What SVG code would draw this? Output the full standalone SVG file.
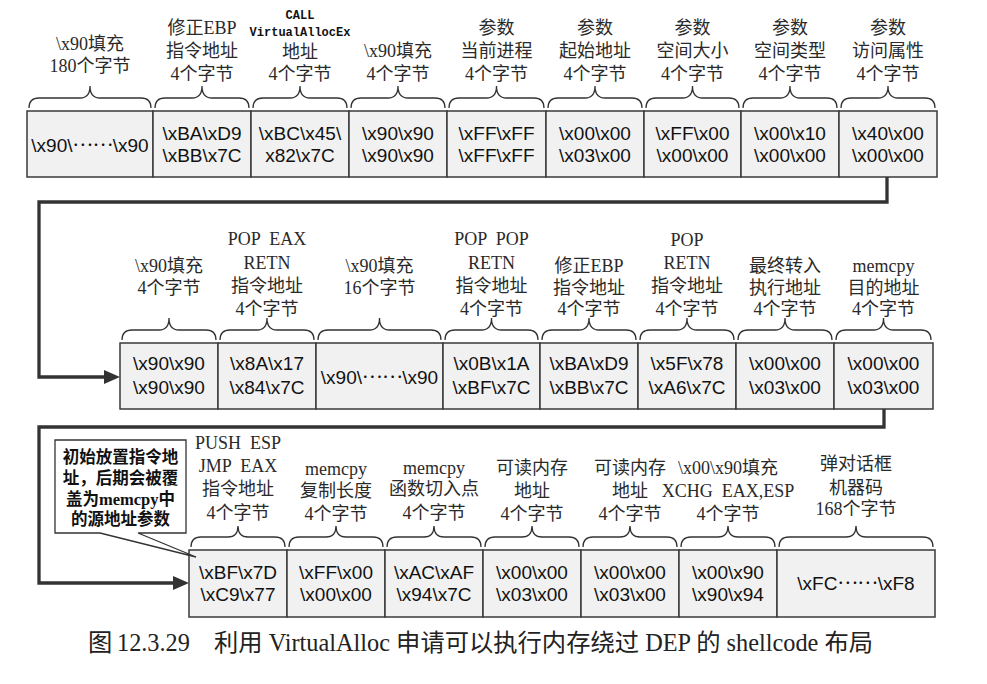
<svg xmlns="http://www.w3.org/2000/svg" width="987" height="684" viewBox="0 0 987 684">
<style>
.box{fill:#f1f1f1;stroke:#3a3a3a;stroke-width:1.5}
.brace{fill:none;stroke:#333;stroke-width:1.3}
.lbl{font-family:"Liberation Serif","Noto Sans CJK SC",serif;font-size:18px;fill:#2a2a2a;text-anchor:middle}
.val{font-family:"Liberation Sans","Noto Sans CJK SC",sans-serif;font-size:19px;fill:#111;text-anchor:middle}
.dots{font-family:"Noto Sans CJK SC",sans-serif}
.mono{font-family:"Liberation Mono",monospace;font-weight:bold;font-size:12px;fill:#111;text-anchor:middle}
.conn{fill:none;stroke:#333;stroke-width:3.3}
.note{font-family:"Liberation Serif","Noto Sans CJK SC",sans-serif;font-weight:bold;font-size:16.5px;fill:#111;text-anchor:middle}
.cap{font-family:"Liberation Serif","Noto Sans CJK SC",serif;font-size:24.3px;fill:#222}
</style>
<defs>
<marker id="arr" markerUnits="userSpaceOnUse" markerWidth="16" markerHeight="14" viewBox="0 0 16 14" refX="2" refY="7" orient="auto">
<path d="M0,0 L16,7 L0,14 Z" fill="#333"/>
</marker>
</defs>
<rect width="987" height="684" fill="#fff"/>

<g id="connectors">
<path class="conn" d="M887,177 V202 H39 V377 H106" marker-end="url(#arr)"/>
<path class="conn" d="M884,409 V427 H39 V583 H175" marker-end="url(#arr)"/>
</g>

<!-- Row 1 -->
<g id="r1n1">
<path class="brace" d="M29,108 Q29,98 39,98 H80 Q90,98 90,86 Q90,98 100,98 H141 Q151,98 151,108"/>
<text class="lbl" x="90" y="50">\x90填充</text>
<text class="lbl" x="90" y="72">180个字节</text>
<rect class="box" x="27" y="111" width="126" height="66"/>
<text class="val" x="90" y="152">\x90\<tspan class="dots" dy="-6">……</tspan><tspan dy="6">\x90</tspan></text>
</g>
<g id="r1n2">
<path class="brace" d="M155,108 Q155,98 165,98 H192 Q202,98 202,86 Q202,98 212,98 H239 Q249,98 249,108"/>
<text class="lbl" x="202" y="34">修正EBP</text>
<text class="lbl" x="202" y="57">指令地址</text>
<text class="lbl" x="202" y="80">4个字节</text>
<rect class="box" x="153" y="111" width="98" height="66"/>
<text class="val" x="202" y="140">\xBA\xD9</text>
<text class="val" x="202" y="162">\xBB\x7C</text>
</g>
<g id="r1n3">
<path class="brace" d="M253,108 Q253,98 263,98 H290 Q300,98 300,86 Q300,98 310,98 H337 Q347,98 347,108"/>
<text class="mono" x="300" y="19">CALL</text>
<text class="mono" x="300" y="36">VirtualAllocEx</text>
<text class="lbl" x="300" y="58">地址</text>
<text class="lbl" x="300" y="80">4个字节</text>
<rect class="box" x="251" y="111" width="98" height="66"/>
<text class="val" x="300" y="140">\xBC\x45\</text>
<text class="val" x="300" y="162">x82\x7C</text>
</g>
<g id="r1n4">
<path class="brace" d="M351,108 Q351,98 361,98 H388 Q398,98 398,86 Q398,98 408,98 H435 Q445,98 445,108"/>
<text class="lbl" x="398" y="57">\x90填充</text>
<text class="lbl" x="398" y="80">4个字节</text>
<rect class="box" x="349" y="111" width="98" height="66"/>
<text class="val" x="398" y="140">\x90\x90</text>
<text class="val" x="398" y="162">\x90\x90</text>
</g>
<g id="r1n5">
<path class="brace" d="M449,108 Q449,98 459,98 H486.5 Q496.5,98 496.5,86 Q496.5,98 506.5,98 H534 Q544,98 544,108"/>
<text class="lbl" x="496.5" y="34">参数</text>
<text class="lbl" x="496.5" y="57">当前进程</text>
<text class="lbl" x="496.5" y="80">4个字节</text>
<rect class="box" x="447" y="111" width="99" height="66"/>
<text class="val" x="496.5" y="140">\xFF\xFF</text>
<text class="val" x="496.5" y="162">\xFF\xFF</text>
</g>
<g id="r1n6">
<path class="brace" d="M548,108 Q548,98 558,98 H585 Q595,98 595,86 Q595,98 605,98 H632 Q642,98 642,108"/>
<text class="lbl" x="595" y="34">参数</text>
<text class="lbl" x="595" y="57">起始地址</text>
<text class="lbl" x="595" y="80">4个字节</text>
<rect class="box" x="546" y="111" width="98" height="66"/>
<text class="val" x="595" y="140">\x00\x00</text>
<text class="val" x="595" y="162">\x03\x00</text>
</g>
<g id="r1n7">
<path class="brace" d="M646,108 Q646,98 656,98 H682.5 Q692.5,98 692.5,86 Q692.5,98 702.5,98 H729 Q739,98 739,108"/>
<text class="lbl" x="692.5" y="34">参数</text>
<text class="lbl" x="692.5" y="57">空间大小</text>
<text class="lbl" x="692.5" y="80">4个字节</text>
<rect class="box" x="644" y="111" width="97" height="66"/>
<text class="val" x="692.5" y="140">\xFF\x00</text>
<text class="val" x="692.5" y="162">\x00\x00</text>
</g>
<g id="r1n8">
<path class="brace" d="M743,108 Q743,98 753,98 H780 Q790,98 790,86 Q790,98 800,98 H827 Q837,98 837,108"/>
<text class="lbl" x="790" y="34">参数</text>
<text class="lbl" x="790" y="57">空间类型</text>
<text class="lbl" x="790" y="80">4个字节</text>
<rect class="box" x="741" y="111" width="98" height="66"/>
<text class="val" x="790" y="140">\x00\x10</text>
<text class="val" x="790" y="162">\x00\x00</text>
</g>
<g id="r1n9">
<path class="brace" d="M841,108 Q841,98 851,98 H878 Q888,98 888,86 Q888,98 898,98 H925 Q935,98 935,108"/>
<text class="lbl" x="888" y="34">参数</text>
<text class="lbl" x="888" y="57">访问属性</text>
<text class="lbl" x="888" y="80">4个字节</text>
<rect class="box" x="839" y="111" width="98" height="66"/>
<text class="val" x="888" y="140">\x40\x00</text>
<text class="val" x="888" y="162">\x00\x00</text>
</g>

<!-- Row 2 -->
<g id="r2n1">
<path class="brace" d="M122,340 Q122,330 132,330 H159 Q169,330 169,318 Q169,330 179,330 H206 Q216,330 216,340"/>
<text class="lbl" x="169" y="272">\x90填充</text>
<text class="lbl" x="169" y="294">4个字节</text>
<rect class="box" x="120" y="343" width="98" height="66"/>
<text class="val" x="169" y="370">\x90\x90</text>
<text class="val" x="169" y="394">\x90\x90</text>
</g>
<g id="r2n2">
<path class="brace" d="M220,340 Q220,330 230,330 H257 Q267,330 267,318 Q267,330 277,330 H304 Q314,330 314,340"/>
<text class="lbl" x="267" y="245" xml:space="preserve">POP  EAX</text>
<text class="lbl" x="267" y="269">RETN</text>
<text class="lbl" x="267" y="292">指令地址</text>
<text class="lbl" x="267" y="315">4个字节</text>
<rect class="box" x="218" y="343" width="98" height="66"/>
<text class="val" x="267" y="370">\x8A\x17</text>
<text class="val" x="267" y="394">\x84\x7C</text>
</g>
<g id="r2n3">
<path class="brace" d="M318,340 Q318,330 328,330 H369.5 Q379.5,330 379.5,318 Q379.5,330 389.5,330 H431 Q441,330 441,340"/>
<text class="lbl" x="379.5" y="272">\x90填充</text>
<text class="lbl" x="379.5" y="294">16个字节</text>
<rect class="box" x="316" y="343" width="127" height="66"/>
<text class="val" x="379.5" y="384">\x90\<tspan class="dots" dy="-6">……</tspan><tspan dy="6">\x90</tspan></text>
</g>
<g id="r2n4">
<path class="brace" d="M445,340 Q445,330 455,330 H481.5 Q491.5,330 491.5,318 Q491.5,330 501.5,330 H528 Q538,330 538,340"/>
<text class="lbl" x="491.5" y="245" xml:space="preserve">POP  POP</text>
<text class="lbl" x="491.5" y="269">RETN</text>
<text class="lbl" x="491.5" y="292">指令地址</text>
<text class="lbl" x="491.5" y="315">4个字节</text>
<rect class="box" x="443" y="343" width="97" height="66"/>
<text class="val" x="491.5" y="370">\x0B\x1A</text>
<text class="val" x="491.5" y="394">\xBF\x7C</text>
</g>
<g id="r2n5">
<path class="brace" d="M542,340 Q542,330 552,330 H579 Q589,330 589,318 Q589,330 599,330 H626 Q636,330 636,340"/>
<text class="lbl" x="589" y="272">修正EBP</text>
<text class="lbl" x="589" y="294">指令地址</text>
<text class="lbl" x="589" y="315">4个字节</text>
<rect class="box" x="540" y="343" width="98" height="66"/>
<text class="val" x="589" y="370">\xBA\xD9</text>
<text class="val" x="589" y="394">\xBB\x7C</text>
</g>
<g id="r2n6">
<path class="brace" d="M640,340 Q640,330 650,330 H677 Q687,330 687,318 Q687,330 697,330 H724 Q734,330 734,340"/>
<text class="lbl" x="687" y="246">POP</text>
<text class="lbl" x="687" y="269">RETN</text>
<text class="lbl" x="687" y="292">指令地址</text>
<text class="lbl" x="687" y="315">4个字节</text>
<rect class="box" x="638" y="343" width="98" height="66"/>
<text class="val" x="687" y="370">\x5F\x78</text>
<text class="val" x="687" y="394">\xA6\x7C</text>
</g>
<g id="r2n7">
<path class="brace" d="M738,340 Q738,330 748,330 H775 Q785,330 785,318 Q785,330 795,330 H822 Q832,330 832,340"/>
<text class="lbl" x="785" y="272">最终转入</text>
<text class="lbl" x="785" y="294">执行地址</text>
<text class="lbl" x="785" y="315">4个字节</text>
<rect class="box" x="736" y="343" width="98" height="66"/>
<text class="val" x="785" y="370">\x00\x00</text>
<text class="val" x="785" y="394">\x03\x00</text>
</g>
<g id="r2n8">
<path class="brace" d="M836,340 Q836,330 846,330 H873.5 Q883.5,330 883.5,318 Q883.5,330 893.5,330 H921 Q931,330 931,340"/>
<text class="lbl" x="883.5" y="272">memcpy</text>
<text class="lbl" x="883.5" y="294">目的地址</text>
<text class="lbl" x="883.5" y="315">4个字节</text>
<rect class="box" x="834" y="343" width="99" height="66"/>
<text class="val" x="883.5" y="370">\x00\x00</text>
<text class="val" x="883.5" y="394">\x03\x00</text>
</g>

<!-- Row 3 -->
<g id="r3n1">
<path class="brace" d="M191,547 Q191,537 201,537 H228 Q238,537 238,526 Q238,537 248,537 H275 Q285,537 285,547"/>
<text class="lbl" x="238" y="449" xml:space="preserve">PUSH  ESP</text>
<text class="lbl" x="238" y="472" xml:space="preserve">JMP  EAX</text>
<text class="lbl" x="238" y="495">指令地址</text>
<text class="lbl" x="238" y="519">4个字节</text>
<rect class="box" x="189" y="550" width="98" height="67"/>
<text class="val" x="238" y="579">\xBF\x7D</text>
<text class="val" x="238" y="601">\xC9\x77</text>
</g>
<g id="r3n2">
<path class="brace" d="M289,547 Q289,537 299,537 H326 Q336,537 336,526 Q336,537 346,537 H373 Q383,537 383,547"/>
<text class="lbl" x="336" y="475">memcpy</text>
<text class="lbl" x="336" y="497">复制长度</text>
<text class="lbl" x="336" y="520">4个字节</text>
<rect class="box" x="287" y="550" width="98" height="67"/>
<text class="val" x="336" y="579">\xFF\x00</text>
<text class="val" x="336" y="601">\x00\x00</text>
</g>
<g id="r3n3">
<path class="brace" d="M387,547 Q387,537 397,537 H424 Q434,537 434,526 Q434,537 444,537 H471 Q481,537 481,547"/>
<text class="lbl" x="434" y="474">memcpy</text>
<text class="lbl" x="434" y="495">函数切入点</text>
<text class="lbl" x="434" y="519">4个字节</text>
<rect class="box" x="385" y="550" width="98" height="67"/>
<text class="val" x="434" y="579">\xAC\xAF</text>
<text class="val" x="434" y="601">\x94\x7C</text>
</g>
<g id="r3n4">
<path class="brace" d="M485,547 Q485,537 495,537 H522 Q532,537 532,526 Q532,537 542,537 H569 Q579,537 579,547"/>
<text class="lbl" x="532" y="474">可读内存</text>
<text class="lbl" x="532" y="497">地址</text>
<text class="lbl" x="532" y="520">4个字节</text>
<rect class="box" x="483" y="550" width="98" height="67"/>
<text class="val" x="532" y="579">\x00\x00</text>
<text class="val" x="532" y="601">\x03\x00</text>
</g>
<g id="r3n5">
<path class="brace" d="M583,547 Q583,537 593,537 H620 Q630,537 630,526 Q630,537 640,537 H667 Q677,537 677,547"/>
<text class="lbl" x="630" y="474">可读内存</text>
<text class="lbl" x="630" y="497">地址</text>
<text class="lbl" x="630" y="520">4个字节</text>
<rect class="box" x="581" y="550" width="98" height="67"/>
<text class="val" x="630" y="579">\x00\x00</text>
<text class="val" x="630" y="601">\x03\x00</text>
</g>
<g id="r3n6">
<path class="brace" d="M681,547 Q681,537 691,537 H718 Q728,537 728,526 Q728,537 738,537 H765 Q775,537 775,547"/>
<text class="lbl" x="728" y="474">\x00\x90填充</text>
<text class="lbl" x="728" y="497" xml:space="preserve">XCHG  EAX,ESP</text>
<text class="lbl" x="728" y="520">4个字节</text>
<rect class="box" x="679" y="550" width="98" height="67"/>
<text class="val" x="728" y="579">\x00\x90</text>
<text class="val" x="728" y="601">\x90\x94</text>
</g>
<g id="r3n7">
<path class="brace" d="M779,547 Q779,537 789,537 H846 Q856,537 856,526 Q856,537 866,537 H923 Q933,537 933,547"/>
<text class="lbl" x="856" y="470">弹对话框</text>
<text class="lbl" x="856" y="494">机器码</text>
<text class="lbl" x="856" y="515">168个字节</text>
<rect class="box" x="777" y="550" width="158" height="67"/>
<text class="val" x="856" y="590">\xFC<tspan class="dots" dy="-6">……</tspan><tspan dy="6">\xF8</tspan></text>
</g>

<g id="callout">
<path d="M55,440 H186 V533 H138 L196,557 L100,533 H55 Z" fill="#fff" stroke="#333" stroke-width="1.3"/>
<text class="note" x="120.5" y="463">初始放置指令地</text>
<text class="note" x="120.5" y="484">址，后期会被覆</text>
<text class="note" x="120.5" y="505">盖为memcpy中</text>
<text class="note" x="120.5" y="525">的源地址参数</text>
</g>

<g id="caption">
<text class="cap" x="88" y="651">图</text>
<text class="cap" x="117" y="651">12.3.29</text>
<text class="cap" x="214" y="651">利用 VirtualAlloc 申请可以执行内存绕过 DEP 的 shellcode 布局</text>
</g>
</svg>
